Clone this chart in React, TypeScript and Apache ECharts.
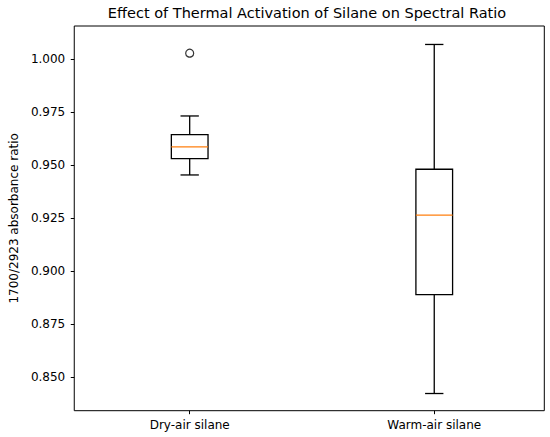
import React, { useEffect, useRef } from "react";
import * as echarts from "echarts";

const categories = ["Dry-air silane", "Warm-air silane"];
const positions = [1, 2];
// [lowerWhisker, q1, median, q3, upperWhisker]
const boxStats = [
  [0.9453, 0.953, 0.9585, 0.9643, 0.9731],
  [0.8423, 0.8889, 0.9264, 0.948, 1.0068],
];
const outliers = [[1, 1.0027]];
const yTicks = [0.85, 0.875, 0.9, 0.925, 0.95, 0.975, 1.0];

const FONT = "DejaVu Sans";

export default function App() {
  const ref = useRef<HTMLDivElement>(null);
  useEffect(() => {
    document.body.style.margin = "0";
    const chart = echarts.init(ref.current!, null, { renderer: "svg" });
    const boxData = boxStats.map((s, i) => [positions[i], ...s]);
    const boxHalf = 0.075;
    const capHalf = 0.0375;
    chart.setOption({
      animation: false,
      backgroundColor: "#ffffff",
      graphic: [
        {
          type: "text",
          x: 307,
          y: 13,
          style: {
            text: "Effect of Thermal Activation of Silane on Spectral Ratio",
            textAlign: "center",
            textVerticalAlign: "middle",
            fontSize: 14.5,
            fontFamily: FONT,
            fill: "#000",
          },
        },
      ],
      grid: {
        left: 70,
        top: 26,
        right: 5.7,
        bottom: 26.3,
        show: true,
        borderColor: "#000",
        borderWidth: 1,
        backgroundColor: "transparent",
      },
      xAxis: {
        type: "value",
        min: 0.528,
        max: 2.45,
        splitLine: { show: false },
        axisLine: { show: false },
        axisTick: {
          show: true,
          length: 3.5,
          lineStyle: { color: "#000" },
          customValues: positions,
        },
        axisLabel: {
          customValues: positions,
          formatter: (v: number) => categories[Math.round(v) - 1] ?? "",
          fontSize: 12,
          fontFamily: FONT,
          color: "#000",
          margin: 8,
        },
      },
      yAxis: {
        type: "value",
        min: 0.8342,
        max: 1.0155,
        name: "1700/2923 absorbance ratio",
        nameLocation: "middle",
        nameGap: 54,
        nameTextStyle: { fontSize: 12, fontFamily: FONT, color: "#000" },
        splitLine: { show: false },
        axisLine: { show: false },
        axisTick: {
          show: true,
          length: 3.5,
          lineStyle: { color: "#000" },
          customValues: yTicks,
        },
        axisLabel: {
          customValues: yTicks,
          formatter: (v: number) => v.toFixed(3),
          fontSize: 12,
          fontFamily: FONT,
          color: "#000",
          margin: 9,
        },
      },
      series: [
        {
          type: "custom",
          data: boxData,
          encode: { x: 0, y: [1, 2, 3, 4, 5] },
          renderItem: (params: any, api: any) => {
            const x = api.value(0);
            const lo = api.value(1);
            const q1 = api.value(2);
            const med = api.value(3);
            const q3 = api.value(4);
            const hi = api.value(5);
            const pLoL = api.coord([x - boxHalf, q1]);
            const pHiR = api.coord([x + boxHalf, q3]);
            const c = (xx: number, yy: number) => api.coord([xx, yy]);
            const ls = { stroke: "#000", lineWidth: 1.3, fill: "none" };
            return {
              type: "group",
              children: [
                {
                  type: "rect",
                  shape: {
                    x: pLoL[0],
                    y: pHiR[1],
                    width: pHiR[0] - pLoL[0],
                    height: pLoL[1] - pHiR[1],
                  },
                  style: ls,
                },
                {
                  type: "line",
                  shape: { x1: c(x, q3)[0], y1: c(x, q3)[1], x2: c(x, hi)[0], y2: c(x, hi)[1] },
                  style: ls,
                },
                {
                  type: "line",
                  shape: { x1: c(x, q1)[0], y1: c(x, q1)[1], x2: c(x, lo)[0], y2: c(x, lo)[1] },
                  style: ls,
                },
                {
                  type: "line",
                  shape: {
                    x1: c(x - capHalf, hi)[0],
                    y1: c(x - capHalf, hi)[1],
                    x2: c(x + capHalf, hi)[0],
                    y2: c(x + capHalf, hi)[1],
                  },
                  style: ls,
                },
                {
                  type: "line",
                  shape: {
                    x1: c(x - capHalf, lo)[0],
                    y1: c(x - capHalf, lo)[1],
                    x2: c(x + capHalf, lo)[0],
                    y2: c(x + capHalf, lo)[1],
                  },
                  style: ls,
                },
                {
                  type: "line",
                  shape: {
                    x1: c(x - boxHalf, med)[0],
                    y1: c(x - boxHalf, med)[1],
                    x2: c(x + boxHalf, med)[0],
                    y2: c(x + boxHalf, med)[1],
                  },
                  style: { stroke: "#ff7f0e", lineWidth: 1.3 },
                },
              ],
            };
          },
        },
        {
          type: "scatter",
          data: outliers,
          symbol: "circle",
          symbolSize: 8,
          itemStyle: { color: "rgba(0,0,0,0)", borderColor: "#000", borderWidth: 1.2 },
        },
      ],
    });
    return () => chart.dispose();
  }, []);
  return <div ref={ref} style={{ width: 550, height: 437 }} />;
}
